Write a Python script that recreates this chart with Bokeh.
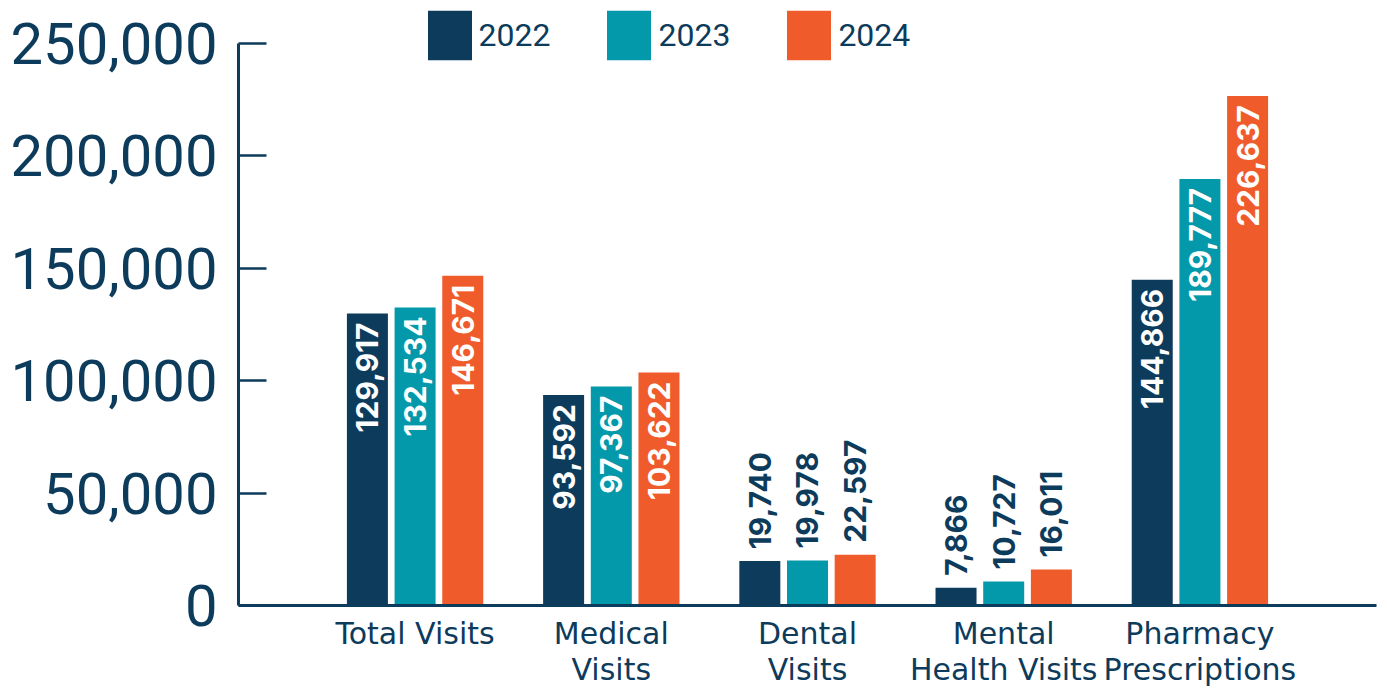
import math
from bokeh.plotting import figure
from bokeh.models import (ColumnDataSource, FactorRange, FixedTicker, NumeralTickFormatter,
                          LabelSet, Range1d)
from bokeh.core.properties import value
from bokeh.transform import dodge
from bokeh.embed import file_html
from bokeh.resources import INLINE

categories = ["Total Visits", "Medical\nVisits", "Dental\nVisits", "Mental\nHealth Visits",
              "Pharmacy\nPrescriptions"]
years = ["2022", "2023", "2024"]
values_2022 = [129917, 93592, 19740, 7866, 144866]
values_2023 = [132534, 97367, 19978, 10727, 189777]
values_2024 = [146671, 103622, 22597, 16011, 226637]
y_ticks = [0, 50000, 100000, 150000, 200000, 250000]

colors = ["#0d3b5c", "#0399aa", "#f05b2b"]
text_dark = "#0d3b5c"
offsets = [-0.243, 0.0, 0.243]
bar_w = 0.209

series = [values_2022, values_2023, values_2024]

# layout: frame spans whole top; axis max sits 43px below the top
H, BOTTOM, TOP_GAP = 689, 84, 43
frame_h = H - BOTTOM
y_max = y_ticks[-1]
y_end = y_max * frame_h / (frame_h - TOP_GAP)

p = figure(width=1386, height=H, output_backend="svg", toolbar_location=None,
           x_range=FactorRange(factors=categories, range_padding=0.4,
                               range_padding_units="absolute"),
           y_range=Range1d(0, y_end),
           min_border_left=238, min_border_right=10, min_border_top=0,
           min_border_bottom=BOTTOM)
p.outline_line_color = None
p.xgrid.grid_line_color = None
p.ygrid.grid_line_color = None
p.background_fill_color = "white"
p.border_fill_color = "white"

for yr, vals, col, off in zip(years, series, colors, offsets):
    src = ColumnDataSource(dict(cat=categories, v=vals))
    p.vbar(x=dodge("cat", off, range=p.x_range), top="v", width=bar_w, source=src,
           fill_color=col, line_color=None, legend_label=yr)
    inside = [i for i, v in enumerate(vals) if v >= 50000]
    outside = [i for i, v in enumerate(vals) if v < 50000]
    for idx, inner in ((inside, True), (outside, False)):
        if not idx:
            continue
        s = ColumnDataSource(dict(cat=[categories[i] for i in idx],
                                  v=[vals[i] for i in idx],
                                  t=[f"{vals[i]:,}" for i in idx]))
        lab = LabelSet(x=dodge("cat", off, range=p.x_range), y="v", text="t", source=s,
                       angle=math.pi / 2,
                       text_align="right" if inner else "left",
                       text_baseline="middle",
                       y_offset=-9 if inner else 12,
                       text_color="white" if inner else text_dark,
                       text_font=value("Inter"), text_font_style="bold",
                       text_font_size="30px")
        p.add_layout(lab)

# y axis
ya = p.yaxis[0]
ya.ticker = FixedTicker(ticks=y_ticks)
ya.bounds = (0, y_max)
ya.formatter = NumeralTickFormatter(format="0,0")
ya.axis_line_color = text_dark
ya.axis_line_width = 3
ya.major_tick_line_color = text_dark
ya.major_tick_line_width = 2.5
ya.major_tick_in = 28
ya.major_tick_out = 0
ya.minor_tick_line_color = None
ya.major_label_text_font = "Roboto"
ya.major_label_text_font_size = "58px"
ya.major_label_text_color = text_dark
ya.major_label_standoff = 21

# x axis
xa = p.xaxis[0]
xa.axis_line_color = text_dark
xa.axis_line_width = 3
xa.major_tick_line_color = None
xa.minor_tick_line_color = None
xa.major_tick_in = 0
xa.major_tick_out = 0
xa.major_label_text_font = "DejaVu Sans"
xa.major_label_text_font_size = "30px"
xa.major_label_text_color = text_dark
xa.major_label_standoff = 10
xa.major_label_text_line_height = 1.03

# legend (bokeh insets the swatch by 10% of the glyph box)
lg = p.legend[0]
lg.orientation = "horizontal"
lg.location = (183.5, 538.75)
lg.glyph_width = 55
lg.glyph_height = 62
lg.label_height = 62
lg.label_standoff = 2
lg.spacing = 51
lg.padding = 0
lg.margin = 0
lg.border_line_color = None
lg.background_fill_alpha = 0
lg.label_text_font = "Roboto"
lg.label_text_font_size = "32px"
lg.label_text_color = text_dark

open("out.html", "w").write(file_html(p, INLINE))
